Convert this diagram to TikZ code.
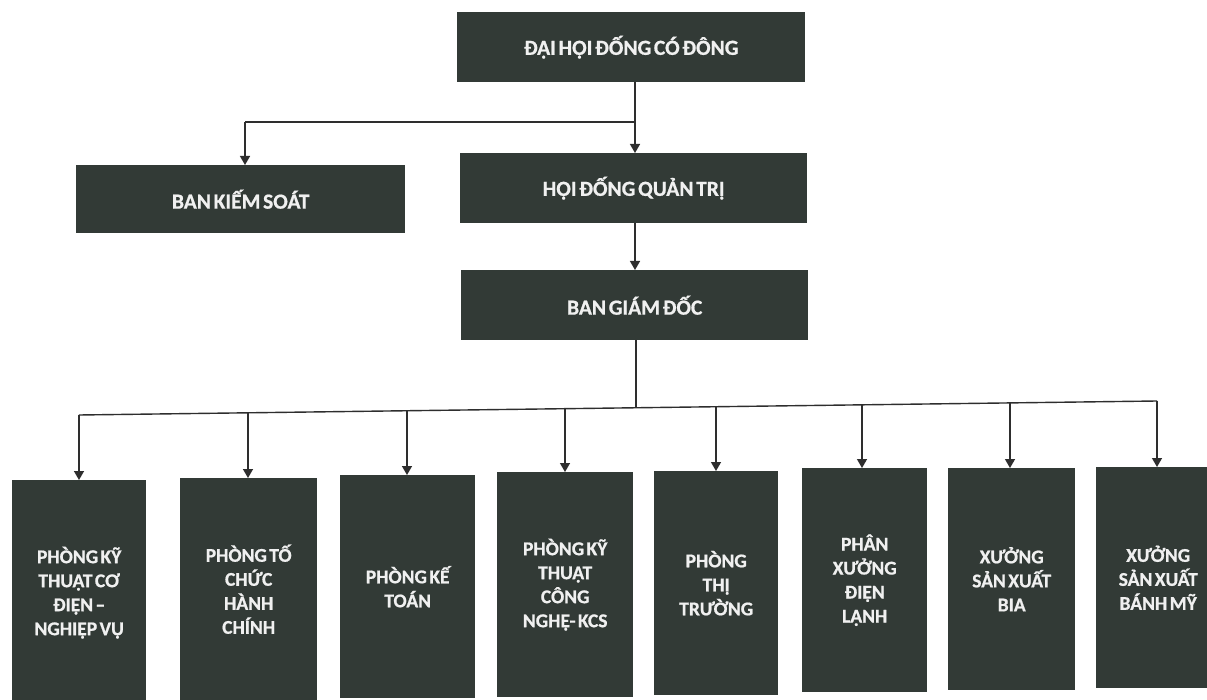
\documentclass[tikz,border=0pt]{standalone}
\usepackage{fontspec}
\setmainfont{Carlito}[WordSpace=0.55, BoldFeatures={FakeBold=0.8}]
\usetikzlibrary{arrows.meta}
\definecolor{boxc}{HTML}{323A36}
\definecolor{linec}{HTML}{2E2E2E}
\tikzset{
  orgbox/.style={fill=boxc, text=white!94!black, inner sep=0pt, align=center,
    font=\fontsize{19.5}{24}\selectfont\bfseries, anchor=north west},
  topbox/.style={orgbox, font=\fontsize{21.5}{24}\selectfont\bfseries},
  conn/.style={draw=linec, line width=1.4pt},
  arr/.style={conn, -{Triangle[length=9pt,width=10pt]}}
}
\newcommand{\obox}[7][orgbox]{% style, name, x1, y1, x2, y2, text
  \node[#1, minimum width=#5pt-#3pt, minimum height=#6pt-#4pt] (#2) at (#3,#4) {#7};}
\begin{document}
\begin{tikzpicture}[x=1pt,y=-1pt]
\useasboundingbox (0,0) rectangle (1207,700);
\fill[white] (0,0) rectangle (1207,700);
% top boxes
\obox[topbox]{dh}{457}{12}{805}{82}{ĐẠI HỘI ĐỐNG CÓ ĐÔNG}
\obox[topbox]{bks}{76}{165}{405}{233}{BAN KIẾM SOÁT}
\obox[topbox]{hd}{460}{153}{807}{223}{HỘI ĐỐNG QUẢN TRỊ}
\obox[topbox]{bgd}{461}{270}{808}{340}{BAN GIÁM ĐỐC}
% bottom boxes
\obox{b1}{12}{480}{146}{705}{PHÒNG KỸ\\THUẬT CƠ\\ĐIỆN –\\NGHIỆP VỤ}
\obox{b2}{180}{478}{317}{700}{PHÒNG TỐ\\CHỨC\\HÀNH\\CHÍNH}
\obox{b3}{340}{475}{475}{698}{PHÒNG KẾ\\TOÁN}
\obox{b4}{497}{472}{633}{697}{PHÒNG KỸ\\THUẬT\\CÔNG\\NGHỆ- KCS}
\obox{b5}{654}{471}{778}{695}{PHÒNG\\THỊ\\TRƯỜNG}
\obox{b6}{802}{468}{927}{692}{PHÂN\\XƯỞNG\\ĐIỆN\\LẠNH}
\obox{b7}{948}{468}{1075}{690}{XƯỞNG\\SẢN XUẤT\\BIA}
\obox{b8}{1096}{467}{1220}{688}{XƯỞNG\\SẢN XUẤT\\BÁNH MỸ}
% top connectors
\coordinate (j) at (635,122);
\coordinate (jl) at (245,122);
\draw[conn] (j |- dh.south) -- (j) -- (jl);
\draw[arr] (jl) -- (jl |- bks.north);
\draw[arr] (j) -- (j |- hd.north);
\draw[arr] (j |- hd.south) -- (j |- bgd.north);
% bus
\coordinate (dm) at (636,407.7);
\coordinate (d1) at (79,415);
\coordinate (d2) at (248,412.8);
\coordinate (d3) at (407,410.7);
\coordinate (d4) at (565,408.7);
\coordinate (d5) at (716,406.7);
\coordinate (d6) at (862,404.8);
\coordinate (d7) at (1010,402.9);
\coordinate (d8) at (1157,401);
\draw[conn] (dm |- bgd.south) -- (dm);
\draw[conn] (d1) -- (d8);
\foreach \i in {1,...,8}{
  \draw[arr] (d\i) -- (d\i |- b\i.north);
}
\end{tikzpicture}
\end{document}
